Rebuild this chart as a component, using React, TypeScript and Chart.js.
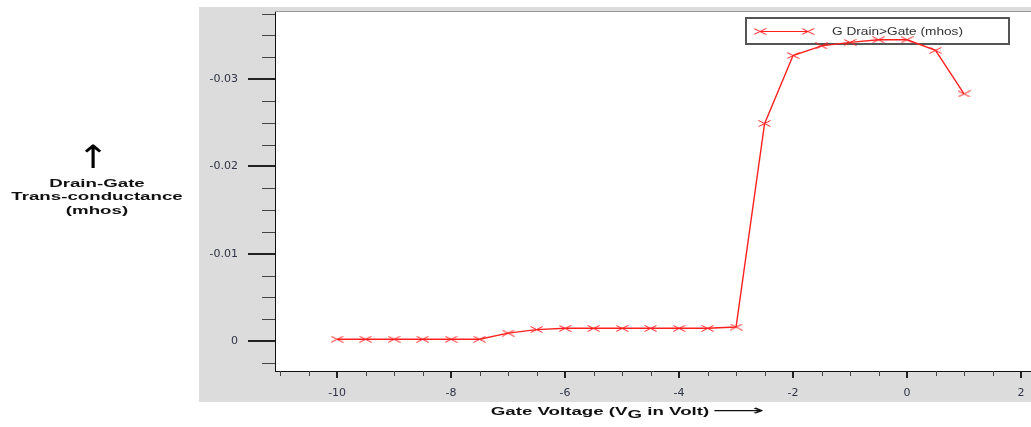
import React, { useEffect, useRef } from "react";
import { Chart, registerables } from "chart.js";

Chart.register(...registerables);

// ---- data ----
const gateVoltage = [
  -10, -9.5, -9, -8.5, -8, -7.5, -7, -6.5, -6, -5.5, -5, -4.5, -4, -3.5, -3,
  -2.5, -2, -1.5, -1, -0.5, 0, 0.5, 1,
];
const drainGateTransconductance = [
  -0.0002, -0.0002, -0.0002, -0.0002, -0.0002, -0.0002, -0.0009, -0.0013,
  -0.00145, -0.00145, -0.00145, -0.00145, -0.00145, -0.00145, -0.0016,
  -0.0249, -0.0327, -0.0338, -0.0342, -0.0345, -0.0345, -0.0333, -0.0283,
];
const seriesLabel = "G Drain>Gate (mhos)";
const xTickValues = [-10, -8, -6, -4, -2, 0, 2];
const yTickValues = [0, -0.01, -0.02, -0.03];
const yTitleLines = ["Drain-Gate", "Trans-conductance", "(mhos)"];

const X_MIN = -11.09;
const X_MAX = 2.175;
const Y_MIN = -0.0378;
const Y_MAX = 0.00344;

function makeMarker(): HTMLCanvasElement {
  const c = document.createElement("canvas");
  c.width = 13;
  c.height = 7;
  const g = c.getContext("2d")!;
  g.strokeStyle = "#ff2020";
  g.lineWidth = 1;
  g.beginPath();
  g.moveTo(0.5, 0.5);
  g.lineTo(12.5, 6.5);
  g.moveTo(0.5, 6.5);
  g.lineTo(12.5, 0.5);
  g.stroke();
  return c;
}

function zeroPadding(s: any) {
  s.paddingTop = 0;
  s.paddingBottom = 0;
  s.paddingLeft = 0;
  s.paddingRight = 0;
}

const decorPlugin = {
  id: "decor",
  beforeDraw(chart: any) {
    const { ctx, chartArea: a } = chart;
    ctx.save();
    ctx.fillStyle = "#dcdcdc";
    ctx.fillRect(199, 7, 832, 395);
    ctx.fillStyle = "#ffffff";
    ctx.fillRect(a.left, a.top, a.right - a.left, a.bottom - a.top);
    ctx.restore();
  },
  beforeDatasetsDraw(chart: any) {
    const { ctx } = chart;
    ctx.save();
    // legend box (drawn beneath the curve, as in the original)
    const label = chart.data.datasets[0].label;
    const bx = 746, by = 18, bw = 263, bh = 26;
    ctx.fillStyle = "#ffffff";
    ctx.fillRect(bx, by, bw, bh);
    ctx.strokeStyle = "#555";
    ctx.lineWidth = 2;
    ctx.strokeRect(bx, by, bw, bh);
    const ly = by + 13;
    ctx.strokeStyle = "#ff2020";
    ctx.lineWidth = 1;
    ctx.beginPath();
    ctx.moveTo(760, ly + 0.5);
    ctx.lineTo(808, ly + 0.5);
    ctx.stroke();
    const m = chart.data.datasets[0].pointStyle;
    if (m) {
      ctx.drawImage(m, 760 - m.width / 2, ly - m.height / 2 + 0.5);
      ctx.drawImage(m, 808 - m.width / 2, ly - m.height / 2 + 0.5);
    }
    ctx.font = '11px "Liberation Sans"';
    const w = ctx.measureText(label).width;
    ctx.translate(832, ly + 1);
    ctx.scale(131 / w, 1);
    ctx.fillStyle = "#333";
    ctx.textBaseline = "middle";
    ctx.fillText(label, 0, 0);
    ctx.restore();
  },
  afterDraw(chart: any) {
    const { ctx, chartArea: a } = chart;
    const xs = chart.scales.x;
    const ys = chart.scales.y;
    ctx.save();
    // top frame line
    ctx.strokeStyle = "#9a9a9a";
    ctx.lineWidth = 1;
    ctx.beginPath();
    ctx.moveTo(a.left, a.top + 0.5);
    ctx.lineTo(a.right, a.top + 0.5);
    ctx.stroke();

    // minor ticks on y
    ctx.strokeStyle = "#444";
    ctx.lineWidth = 1;
    const ystep = 0.0025;
    for (let k = Math.ceil(Y_MIN / ystep); k * ystep <= Y_MAX; k++) {
      if (k % 4 === 0) continue;
      const py = Math.round(ys.getPixelForValue(k * ystep)) + 0.5;
      ctx.beginPath();
      ctx.moveTo(a.left - 13, py);
      ctx.lineTo(a.left, py);
      ctx.stroke();
    }
    // minor ticks on x
    const xstep = 0.5;
    for (let k = Math.ceil(X_MIN / xstep); k * xstep <= X_MAX; k++) {
      if (k % 4 === 0) continue;
      const px = Math.round(xs.getPixelForValue(k * xstep)) + 0.5;
      ctx.beginPath();
      ctx.moveTo(px, a.bottom);
      ctx.lineTo(px, a.bottom + 5);
      ctx.stroke();
    }
    ctx.restore();
  },
};

export default function App() {
  const ref = useRef<HTMLCanvasElement>(null);

  useEffect(() => {
    if (!ref.current) return;
    const marker = makeMarker();
    const chart = new Chart(ref.current, {
      type: "line",
      data: {
        datasets: [
          {
            label: seriesLabel,
            data: gateVoltage.map((x, i) => ({ x, y: drainGateTransconductance[i] })),
            borderColor: "#ff2020",
            borderWidth: 1.4,
            pointStyle: marker as any,
            pointRadius: 6,
            pointHoverRadius: 6,
            tension: 0,
            clip: false as any,
          },
        ],
      },
      options: {
        responsive: false,
        animation: false,
        events: [],
        layout: { autoPadding: false, padding: { top: 11, left: 0, right: 0, bottom: 0 } },
        plugins: { legend: { display: false }, tooltip: { enabled: false } },
        scales: {
          x: {
            type: "linear",
            min: X_MIN,
            max: X_MAX,
            afterBuildTicks: (s: any) => {
              s.ticks = xTickValues.map((v) => ({ value: v }));
            },
            afterFit: (s: any) => {
              s.height = 56;
              zeroPadding(s);
            },
            ticks: {
              padding: 9,
              color: "#2f3446",
              font: { family: '"DejaVu Sans"', size: 11 },
              callback: (v: any) => String(v),
            },
            grid: {
              drawOnChartArea: false,
              drawTicks: true,
              tickLength: 7,
              lineWidth: 2,
              color: "#222",
            },
            border: { display: true, color: "#111", width: 1 },
          },
          y: {
            type: "linear",
            reverse: true,
            min: Y_MIN,
            max: Y_MAX,
            afterBuildTicks: (s: any) => {
              s.ticks = yTickValues.map((v) => ({ value: v }));
            },
            afterFit: (s: any) => {
              s.width = 275;
              zeroPadding(s);
            },
            ticks: {
              padding: 10,
              color: "#2f3446",
              font: { family: '"DejaVu Sans"', size: 11 },
              callback: (v: any) => (Number(v) === 0 ? "0" : Number(v).toFixed(2)),
            },
            grid: {
              drawOnChartArea: false,
              drawTicks: true,
              tickLength: 27,
              lineWidth: 2,
              color: "#222",
            },
            border: { display: true, color: "#111", width: 1 },
          },
        },
      },
      plugins: [decorPlugin],
    });
    return () => chart.destroy();
  }, []);

  const titleFont = 'bold 11px "Liberation Sans", Arial, sans-serif';

  return (
    <div style={{ position: "absolute", left: 0, top: 0, width: 1031, height: 427 }}>
      <canvas ref={ref} width={1031} height={427} style={{ display: "block" }} />
      <div
        style={{
          position: "absolute",
          left: 93,
          top: 157,
          transform: "translate(-50%, -50%) scaleX(1.2)",
          font: '32px "DejaVu Sans"',
          lineHeight: "32px",
          color: "#000",
        }}
      >
        ↑
      </div>
      <div
        style={{
          position: "absolute",
          left: 96.5,
          top: 196.5,
          transform: "translate(-50%, -50%) scaleX(1.7)",
          font: titleFont,
          lineHeight: "13.5px",
          textAlign: "center",
          whiteSpace: "nowrap",
          color: "#111",
        }}
      >
        {yTitleLines.map((t) => (
          <div key={t}>{t}</div>
        ))}
      </div>
      <div
        style={{
          position: "absolute",
          left: 600,
          top: 411,
          transform: "translate(-50%, -50%) scaleX(1.7)",
          font: titleFont,
          lineHeight: "14px",
          whiteSpace: "nowrap",
          color: "#111",
        }}
      >
        Gate Voltage (V<span style={{ position: "relative", top: 3 }}>G</span> in Volt)
      </div>
      <div
        style={{
          position: "absolute",
          left: 738,
          top: 410,
          transform: "translate(-50%, -50%) scaleX(2.6)",
          font: '14px "DejaVu Sans"',
          lineHeight: "14px",
          whiteSpace: "nowrap",
          color: "#111",
        }}
      >
        ⟶
      </div>
    </div>
  );
}
